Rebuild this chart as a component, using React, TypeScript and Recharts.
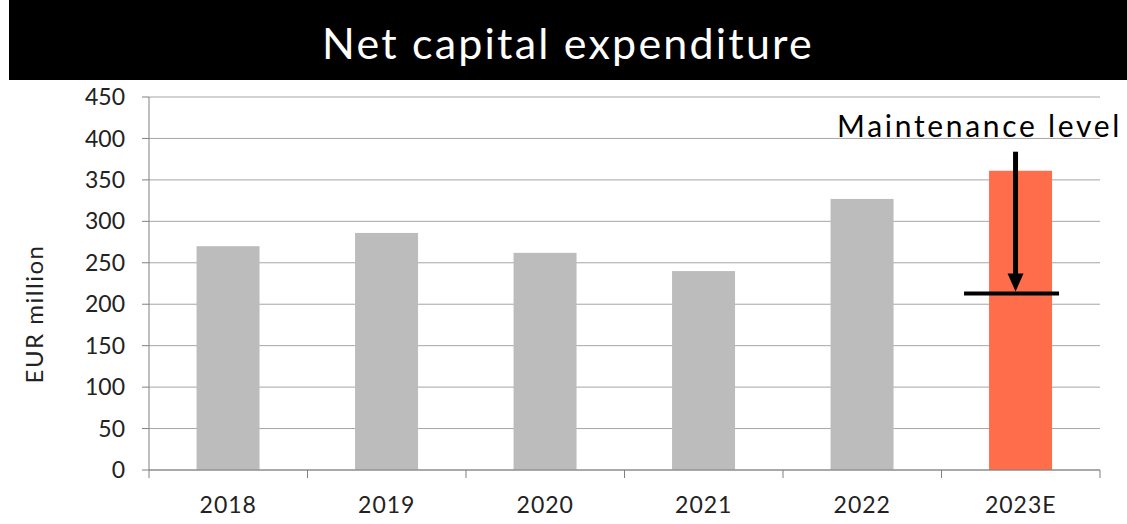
import React from 'react';
import { BarChart, Bar, XAxis, YAxis, CartesianGrid, Cell } from 'recharts';

const years = ['2018', '2019', '2020', '2021', '2022', '2023E'];
const capex = [270, 286, 262, 240, 327, 361];
const barColors = ['#bbbcbb', '#bbbcbb', '#bbbcbb', '#bbbcbb', '#bbbcbb', '#ff6d4a'];
const yTicks = [0, 50, 100, 150, 200, 250, 300, 350, 400, 450];
const maintenanceLevel = 213;
const arrowStart = 384;
const markerYear = '2023E';

const data = years.map((year, i) => ({ year, capex: capex[i] }));

const FONT = 'Lato, "DejaVu Sans", sans-serif';

const CapexBar = (props: any) => {
  const { x, y, width, height, fill, payload } = props;
  const rect = <rect x={x} y={y} width={width} height={height} fill={fill} />;
  if (payload.year !== markerYear) return rect;
  // pixel per unit, taken from the bar the library laid out
  const k = height / payload.capex;
  const base = y + height;
  const yMaint = base - maintenanceLevel * k;
  const yTop = base - arrowStart * k;
  const ax = x + width / 2 - 5;
  return (
    <g>
      {rect}
      <line x1={ax} y1={yTop} x2={ax} y2={yMaint - 16} stroke="#000" strokeWidth={5} />
      <polygon points={`${ax - 8},${yMaint - 20} ${ax + 8},${yMaint - 20} ${ax},${yMaint - 2}`} fill="#000" />
      <line x1={x - 25} y1={yMaint} x2={x + width + 7} y2={yMaint} stroke="#000" strokeWidth={4} />
      <text x={x - 152} y={yTop - 15} fontSize={30} fontFamily={FONT} fill="#000" letterSpacing={2.7}>
        Maintenance level
      </text>
    </g>
  );
};

const XTick = (props: any) => {
  const { x, y, payload, index } = props;
  const half = payload.offset || 79.25;
  const last = index === years.length - 1;
  return (
    <g>
      <line x1={x - half} y1={y - 8} x2={x - half} y2={y} stroke="#808080" />
      {last && <line x1={x + half} y1={y - 8} x2={x + half} y2={y} stroke="#808080" />}
      <text x={x} y={y + 35} textAnchor="middle" fontSize={23} fontFamily={FONT} fill="#222" letterSpacing={1}>
        {payload.value}
      </text>
    </g>
  );
};

export default function App() {
  return (
    <div style={{ position: 'absolute', left: 0, top: 0, width: 1127, height: 524, background: '#fff', fontFamily: FONT }}>
      <div
        style={{
          position: 'absolute',
          left: 9,
          top: 0,
          width: 1118,
          height: 80,
          background: '#000',
          color: '#fff',
          fontSize: 43,
          letterSpacing: 2.2,
          display: 'flex',
          alignItems: 'center',
          justifyContent: 'center',
          boxSizing: 'border-box',
          paddingTop: 4,
        }}
      >
        Net capital expenditure
      </div>
      <div
        style={{
          position: 'absolute',
          left: 33,
          top: 314,
          transform: 'translate(-50%, -50%) rotate(-90deg)',
          fontSize: 24,
          letterSpacing: 1.5,
          color: '#222',
          whiteSpace: 'nowrap',
        }}
      >
        EUR million
      </div>
      <div style={{ position: 'absolute', left: 0, top: 0 }}>
        <BarChart
          width={1127}
          height={524}
          data={data}
          margin={{ top: 97, right: 27, bottom: 4, left: 49 }}
          barCategoryGap="30%"
        >
          <CartesianGrid vertical={false} stroke="#a6a6a6" />
          <XAxis
            dataKey="year"
            height={50}
            stroke="#808080"
            tickLine={false}
            tick={<XTick />}
            interval={0}
          />
          <YAxis
            width={100}
            domain={[0, 450]}
            ticks={yTicks}
            interval={0}
            stroke="#808080"
            tickSize={7}
            tickMargin={17}
            tick={{ fontSize: 23, fontFamily: FONT, fill: '#222' }}
          />
          <Bar dataKey="capex" isAnimationActive={false} shape={<CapexBar />}>
            {data.map((d, i) => (
              <Cell key={d.year} fill={barColors[i]} />
            ))}
          </Bar>
        </BarChart>
      </div>
    </div>
  );
}
